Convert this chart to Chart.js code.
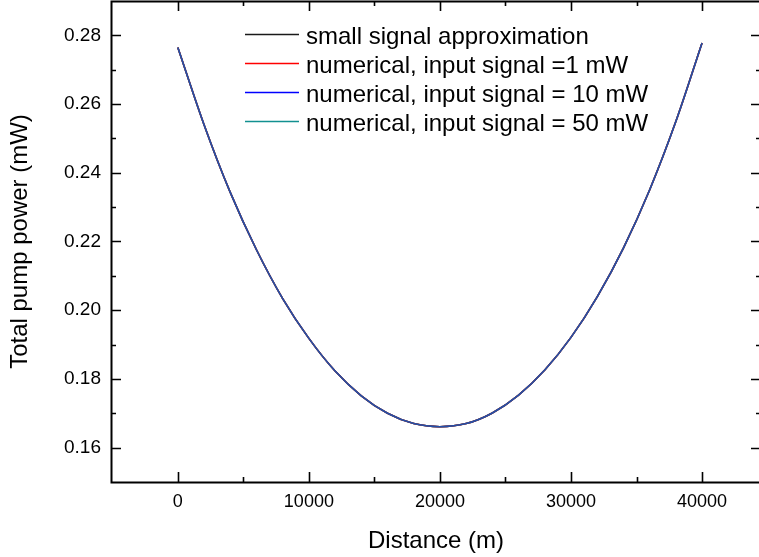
<!DOCTYPE html>
<html>
<head>
<meta charset="utf-8">
<script src="https://cdn.jsdelivr.net/npm/chart.js@4.4.1/dist/chart.umd.min.js"></script>
<style>
  html, body { margin: 0; padding: 0; background: #fff; overflow: hidden; }
  #wrap { width: 775px; height: 557px; }
</style>
</head>
<body>
<div id="wrap"><canvas id="pump" width="775" height="557"></canvas></div>
<script>
// distance along the fibre (m), read every 2 km
const distance = [0, 2000, 4000, 6000, 8000, 10000, 12000, 14000, 16000, 18000, 20000,
  22000, 24000, 26000, 28000, 30000, 32000, 34000, 36000, 38000, 40000];

// total pump power (mW) – all four curves sit on top of each other
const smallSignal = [0.2765, 0.2540, 0.2343, 0.2176, 0.2034, 0.1918, 0.1823, 0.1751, 0.1700, 0.1670, 0.1661,
  0.1670, 0.1701, 0.1753, 0.1826, 0.1921, 0.2039, 0.2181, 0.2350, 0.2549, 0.2778];
const numeric1mW = [0.2765, 0.2540, 0.2343, 0.2176, 0.2034, 0.1918, 0.1823, 0.1751, 0.1700, 0.1670, 0.1661,
  0.1670, 0.1701, 0.1753, 0.1826, 0.1921, 0.2039, 0.2181, 0.2350, 0.2549, 0.2778];
const numeric10mW = [0.2765, 0.2540, 0.2343, 0.2176, 0.2034, 0.1918, 0.1823, 0.1751, 0.1700, 0.1670, 0.1661,
  0.1670, 0.1701, 0.1753, 0.1826, 0.1921, 0.2039, 0.2181, 0.2350, 0.2549, 0.2778];
const numeric50mW = [0.2765, 0.2540, 0.2343, 0.2176, 0.2034, 0.1918, 0.1823, 0.1751, 0.1700, 0.1670, 0.1661,
  0.1670, 0.1701, 0.1753, 0.1826, 0.1921, 0.2039, 0.2181, 0.2350, 0.2549, 0.2778];

const seriesLabels = [
  'small signal approximation',
  'numerical, input signal =1 mW',
  'numerical, input signal = 10 mW',
  'numerical, input signal = 50 mW',
];
const seriesColors = ['#1a1a1a', '#ff0000', '#0000ff', '#129090'];
// curves overlap, so the upper ones are a little see-through (gives the steel blue of the original)
const curveColors = ['#1a1a1a', '#ff0000', 'rgba(0,0,255,0.35)', 'rgba(18,144,144,0.85)'];

// ticks
const xMajor = [0, 10000, 20000, 30000, 40000];
const xMinor = [5000, 15000, 25000, 35000];
const yMajor = [0.16, 0.18, 0.20, 0.22, 0.24, 0.26, 0.28];
const yMinor = [0.17, 0.19, 0.21, 0.23, 0.25, 0.27];

const FONT = "'Liberation Sans', Arial, sans-serif";

const toPoints = ys => distance.map((x, i) => ({ x, y: ys[i] }));

// frame with inward ticks on all four sides (origin style)
const framePlugin = {
  id: 'frame',
  afterDatasetsDraw(chart) {
    const { ctx, chartArea: a, scales: { x, y } } = chart;
    ctx.save();
    ctx.strokeStyle = '#000';
    ctx.lineWidth = 2;
    ctx.strokeRect(a.left + 0.5, a.top + 0.5, a.right - a.left, a.bottom - a.top);
    ctx.lineWidth = 1.6;
    ctx.beginPath();
    const xt = (v, len) => {
      const px = Math.round(x.getPixelForValue(v)) + 0.5;
      ctx.moveTo(px, a.bottom); ctx.lineTo(px, a.bottom - len);
      ctx.moveTo(px, a.top); ctx.lineTo(px, a.top + len);
    };
    const yt = (v, len) => {
      const py = Math.round(y.getPixelForValue(v)) + 0.5;
      ctx.moveTo(a.left, py); ctx.lineTo(a.left + len, py);
      ctx.moveTo(a.right, py); ctx.lineTo(a.right - len, py);
    };
    xMajor.forEach(v => xt(v, 10));
    xMinor.forEach(v => xt(v, 5));
    yMajor.forEach(v => yt(v, 10));
    yMinor.forEach(v => yt(v, 5));
    ctx.stroke();
    ctx.restore();
  },
};

// legend drawn inside the plot, top centre
const legendPlugin = {
  id: 'insideLegend',
  afterDraw(chart) {
    const { ctx } = chart;
    ctx.save();
    ctx.font = '24px ' + FONT;
    ctx.textBaseline = 'alphabetic';
    ctx.textAlign = 'left';
    seriesLabels.forEach((label, i) => {
      const yy = 34.5 + i * 29;
      ctx.strokeStyle = seriesColors[i];
      ctx.lineWidth = 1.5;
      ctx.beginPath();
      ctx.moveTo(245, yy); ctx.lineTo(299, yy);
      ctx.stroke();
      ctx.fillStyle = '#000';
      ctx.fillText(label, 306, yy + 9);
    });
    ctx.restore();
  },
};

const datasets = [smallSignal, numeric1mW, numeric10mW, numeric50mW].map((ys, i) => ({
  label: seriesLabels[i],
  data: toPoints(ys),
  borderColor: curveColors[i],
  borderWidth: 1.6,
  pointRadius: 0,
  fill: false,
  cubicInterpolationMode: 'monotone',
  order: [3, 2, 0, 1][i],
}));

new Chart(document.getElementById('pump'), {
  type: 'line',
  data: { datasets },
  options: {
    responsive: false,
    animation: false,
    events: [],
    layout: { padding: { top: 1, right: 14, left: 0, bottom: 0 } },
    plugins: { legend: { display: false }, tooltip: { enabled: false } },
    scales: {
      x: {
        type: 'linear',
        min: -5100,
        max: 44500,
        grid: { display: false, drawTicks: false },
        border: { display: false },
        afterBuildTicks: s => { s.ticks = xMajor.map(v => ({ value: v })); },
        afterFit: s => { s.height = 75; s.paddingLeft = 0; s.paddingRight = 0; },
        ticks: {
          color: '#000',
          padding: 9,
          maxRotation: 0,
          font: { family: FONT, size: 18 },
          callback: v => String(v),
        },
        title: {
          display: true,
          text: 'Distance (m)',
          color: '#000',
          font: { family: FONT, size: 24 },
          padding: { top: 0, bottom: 1 },
        },
      },
      y: {
        type: 'linear',
        min: 0.15,
        max: 0.29,
        grid: { display: false, drawTicks: false },
        border: { display: false },
        afterBuildTicks: s => { s.ticks = yMajor.map(v => ({ value: v })); },
        afterFit: s => { s.width = 111; s.paddingTop = 0; s.paddingBottom = 0; },
        ticks: {
          color: '#000',
          padding: 10,
          font: { family: FONT, size: 19 },
          callback: v => v.toFixed(2),
        },
        title: {
          display: true,
          text: 'Total pump power (mW)',
          color: '#000',
          font: { family: FONT, size: 24 },
          padding: { top: 6, bottom: 0 },
        },
      },
    },
  },
  plugins: [framePlugin, legendPlugin],
});
</script>
</body>
</html>
